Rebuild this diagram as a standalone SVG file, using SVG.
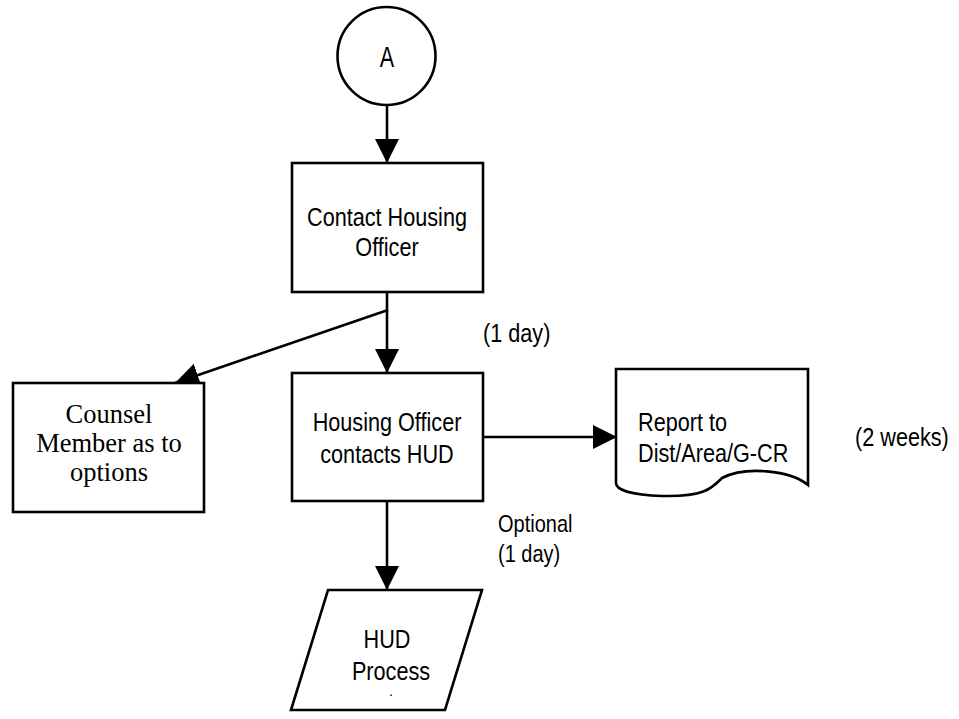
<svg xmlns="http://www.w3.org/2000/svg" width="959" height="719" viewBox="0 0 959 719">
<style>
.shape{fill:#fff;stroke:#000;stroke-width:2.6}
.conn{fill:none;stroke:#000;stroke-width:2.6}
.t{font-family:"Liberation Sans",Arial,sans-serif;font-size:26px;fill:#000}
.sm{font-size:24px}
.s{font-family:"Liberation Serif","Times New Roman",serif;font-size:26.5px;fill:#000}
.m{text-anchor:middle}
</style>
<defs>
<marker id="arr" markerUnits="userSpaceOnUse" markerWidth="26" markerHeight="26" refX="24" refY="12" orient="auto" viewBox="0 0 26 26">
<path d="M0,0 L24,12 L0,24 Z" fill="#000"/>
</marker>
</defs>
<rect width="959" height="719" fill="#fff"/>
<g id="connectors">
<line class="conn" x1="387" y1="105" x2="387" y2="163" marker-end="url(#arr)"/>
<line class="conn" x1="387" y1="292" x2="387" y2="373" marker-end="url(#arr)"/>
<line class="conn" x1="388" y1="310" x2="175" y2="383" marker-end="url(#arr)"/>
<line class="conn" x1="483" y1="437" x2="617" y2="437" marker-end="url(#arr)"/>
<line class="conn" x1="387" y1="501" x2="387" y2="590" marker-end="url(#arr)"/>
</g>
<g id="nodeA">
<circle class="shape" cx="386.5" cy="56" r="49"/>
<text class="t m" transform="translate(387,67) scale(0.72,1)" style="font-size:30px">A</text>
</g>
<g id="contact">
<rect class="shape" x="292" y="163" width="191" height="129"/>
<text class="t m" transform="translate(387,226) scale(0.833,1)">Contact Housing</text>
<text class="t m" transform="translate(387,256) scale(0.833,1)">Officer</text>
</g>
<g id="counsel">
<rect class="shape" x="13" y="383" width="191" height="129"/>
<text class="s m" x="109" y="423">Counsel</text>
<text class="s m" x="109" y="452">Member as to</text>
<text class="s m" x="109" y="481">options</text>
</g>
<g id="hudcontact">
<rect class="shape" x="292" y="373" width="191" height="128"/>
<text class="t m" transform="translate(387,431) scale(0.833,1)">Housing Officer</text>
<text class="t m" transform="translate(387,463) scale(0.833,1)">contacts HUD</text>
</g>
<g id="report">
<path class="shape" d="M616,369 H808 V485 C790,470 745,466 722,478 C712,488 705,497 662,496 C632,495 616,490 616,483 Z"/>
<text class="t" transform="translate(638,431) scale(0.833,1)">Report to</text>
<text class="t" transform="translate(638,462) scale(0.833,1)">Dist/Area/G-CR</text>
</g>
<g id="hudprocess">
<polygon class="shape" points="328,590 482,590 445,710 291,710"/>
<text class="t m" transform="translate(387,648) scale(0.833,1)">HUD</text>
<text class="t m" transform="translate(391,680) scale(0.833,1)">Process</text>
<text class="t m" x="391" y="696" style="font-size:14px">.</text>
</g>
<g id="labels">
<text class="t" transform="translate(483,342) scale(0.833,1)">(1 day)</text>
<text class="t" transform="translate(855,446) scale(0.833,1)">(2 weeks)</text>
<text class="t sm" transform="translate(498,532) scale(0.833,1)">Optional</text>
<text class="t sm" transform="translate(498,562) scale(0.833,1)">(1 day)</text>
</g>
</svg>
